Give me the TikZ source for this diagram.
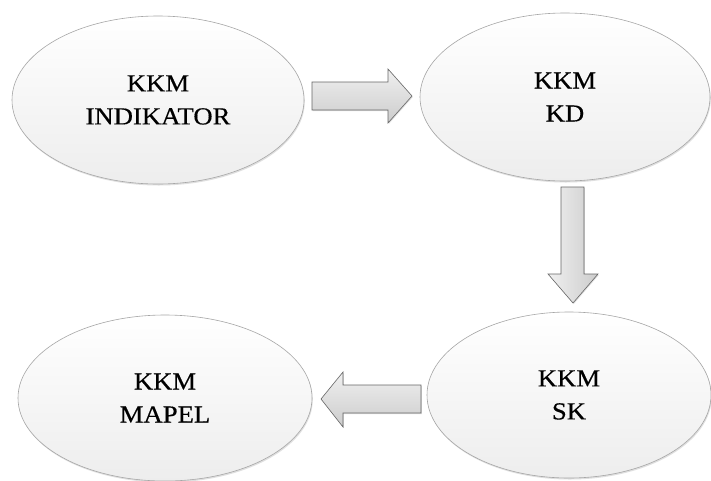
\documentclass[tikz,border=0pt]{standalone}
\usepackage{fontspec}
\setmainfont{Liberation Serif}[FakeStretch=1.09,FakeBold=0.4]
\usetikzlibrary{shadows,shapes.geometric}
\begin{document}
\begin{tikzpicture}[x=1pt,y=-1pt,
  oval/.style={ellipse, draw=gray!70, line width=0.6pt, top color=white, bottom color=gray!14,
    drop shadow={shadow xshift=0.8pt, shadow yshift=-1.5pt, opacity=0.25},
    font=\fontsize{24.5}{33}\selectfont, align=center, inner sep=0pt},
  blockarrow/.style={draw=gray!80!black, line width=0.6pt, top color=gray!12, bottom color=gray!40,
    drop shadow={shadow xshift=0.8pt, shadow yshift=-1pt, opacity=0.25}}]
\useasboundingbox (0,0) rectangle (711,480);
\fill[white] (0,0) rectangle (711,480);
% ovals
\node[oval, minimum width=292pt, minimum height=168pt] (ind) at (158,100) {KKM\\INDIKATOR};
\node[oval, minimum width=290pt, minimum height=168pt] (kd) at (565,97) {KKM\\KD};
\node[oval, minimum width=284pt, minimum height=166pt] (sk) at (569,395) {KKM\\SK};
\node[oval, minimum width=294pt, minimum height=166pt] (mapel) at (165,398) {KKM\\MAPEL};
% block arrows
\path[blockarrow] (312,82) -- (388,82) -- (388,69) -- (412,96) -- (388,123) -- (388,110) -- (312,110) -- cycle;
\path[blockarrow, left color=gray!12, right color=gray!40] (561,187) -- (584,187) -- (584,274) -- (598,274) -- (573,303) -- (548,274) -- (561,274) -- cycle;
\path[blockarrow] (421,385) -- (343,385) -- (343,372) -- (321,399) -- (343,427) -- (343,413) -- (421,413) -- cycle;
\end{tikzpicture}
\end{document}
